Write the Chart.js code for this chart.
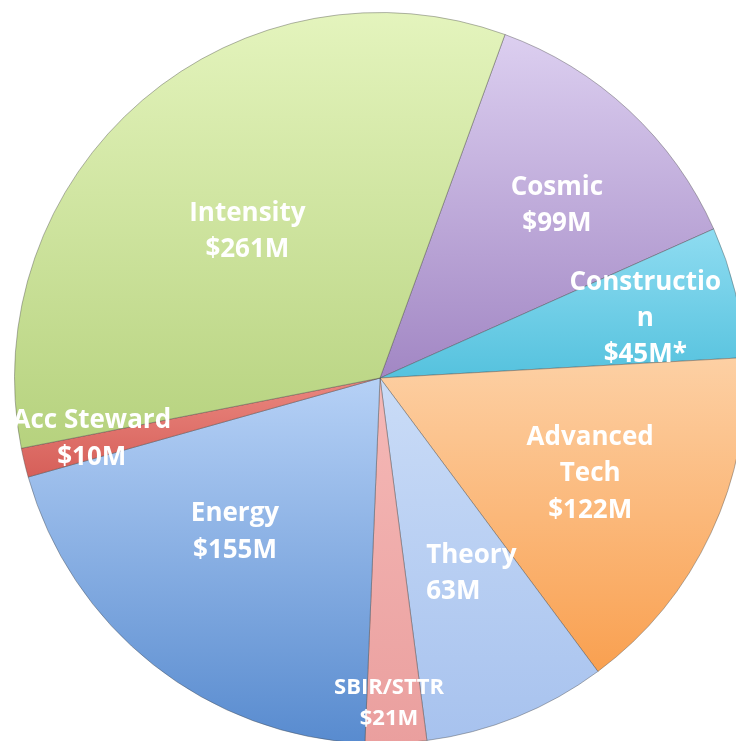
<!DOCTYPE html>
<html>
<head>
<meta charset="utf-8">
<script src="https://cdn.jsdelivr.net/npm/chart.js@4.4.1/dist/chart.umd.min.js"></script>
<style>
  html, body { margin: 0; padding: 0; background: #fff; overflow: hidden; width: 736px; height: 741px; }
  #budget { position: absolute; left: 14px; top: 12px; }
</style>
</head>
<body>
<canvas id="budget" width="732" height="732"></canvas>
<script>
// budget split, $M, clockwise from the Cosmic slice
const categories = ['Cosmic', 'Construction', 'Advanced Tech', 'Theory', 'SBIR/STTR', 'Energy', 'Acc Steward', 'Intensity'];
const amounts = [99, 45, 122, 63, 21, 155, 10, 261];
const labelLines = [
  ['Cosmic', '$99M'],
  ['Constructio', 'n', '$45M*'],
  ['Advanced', 'Tech', '$122M'],
  ['Theory', '63M'],
  ['SBIR/STTR', '$21M'],
  ['Energy', '$155M'],
  ['Acc Steward', '$10M'],
  ['Intensity', '$261M']
];

// gradient stops (top -> bottom of each slice)
const topColors = ['#dccff0', '#8fdcf1', '#fdd0a4', '#cadcf7', '#f5b9b7', '#b6d1f6', '#ea877f', '#e4f4bd'];
const bottomColors = ['#a287c4', '#55c2de', '#f9a050', '#a7c2ee', '#ea9f9e', '#588bcf', '#d65f59', '#b6d27e'];

// label placement: fraction of radius, angle shift in degrees, alignment
const labelRadius = [0.68, 0.745, 0.63, 0.585, 0.885, 0.575, 0.805, 0.545];
const labelShift = [2.4, 0.6, -1.0, -3.3, 0.9, 5.3, 1.8, -1.2];
const labelAlign = ['center', 'center', 'center', 'left', 'center', 'center', 'center', 'center'];
const labelFontSize = [26, 26, 26, 26, 22, 26, 26, 26];

const rotation = 20;
const total = amounts.reduce((a, b) => a + b, 0);

function sliceFill(ctx) {
  const chart = ctx.chart;
  const area = chart.chartArea;
  const i = ctx.dataIndex;
  if (!area) return bottomColors[i];
  const cx = (area.left + area.right) / 2;
  const cy = (area.top + area.bottom) / 2;
  const r = Math.min(area.width, area.height) / 2;
  let before = 0;
  for (let k = 0; k < i; k++) before += amounts[k];
  const s = rotation + before / total * 360;
  const e = s + amounts[i] / total * 360;
  const yAt = deg => cy - r * Math.cos(deg * Math.PI / 180);
  let ys = [cy, yAt(s), yAt(e)];
  for (let a = Math.ceil(s / 180) * 180; a <= e; a += 180) ys.push(yAt(a));
  const y0 = Math.min(...ys), y1 = Math.max(...ys);
  const g = chart.ctx.createLinearGradient(0, y0, 0, y1);
  g.addColorStop(0, topColors[i]);
  g.addColorStop(1, bottomColors[i]);
  return g;
}

const sliceLabels = {
  id: 'sliceLabels',
  afterDatasetsDraw(chart) {
    const c = chart.ctx;
    const meta = chart.getDatasetMeta(0);
    c.save();
    c.fillStyle = '#ffffff';
    c.textBaseline = 'middle';
    meta.data.forEach((arc, i) => {
      const p = arc.getProps(['x', 'y', 'startAngle', 'endAngle', 'outerRadius'], true);
      const mid = (p.startAngle + p.endAngle) / 2 + labelShift[i] * Math.PI / 180;
      const rr = p.outerRadius * labelRadius[i];
      const x = p.x + Math.cos(mid) * rr;
      const y = p.y + Math.sin(mid) * rr + 2;
      const lines = labelLines[i];
      const fs = labelFontSize[i];
      const lh = fs * 1.4;
      c.font = 'bold ' + fs + 'px "Open Sans", "DejaVu Sans", sans-serif';
      const widest = Math.max(...lines.map(t => c.measureText(t).width));
      lines.forEach((t, j) => {
        const ly = y + (j - (lines.length - 1) / 2) * lh;
        if (labelAlign[i] === 'left') {
          c.textAlign = 'left';
          c.fillText(t, x - widest / 2, ly);
        } else {
          c.textAlign = 'center';
          c.fillText(t, x, ly);
        }
      });
    });
    c.restore();
  }
};

new Chart(document.getElementById('budget'), {
  type: 'pie',
  data: {
    labels: categories,
    datasets: [{
      data: amounts,
      backgroundColor: sliceFill,
      borderColor: 'rgba(70, 70, 70, 0.4)',
      borderWidth: 1
    }]
  },
  options: {
    responsive: false,
    animation: false,
    rotation: rotation,
    layout: { padding: 0 },
    events: [],
    plugins: {
      legend: { display: false },
      tooltip: { enabled: false }
    }
  },
  plugins: [sliceLabels]
});
</script>
</body>
</html>
